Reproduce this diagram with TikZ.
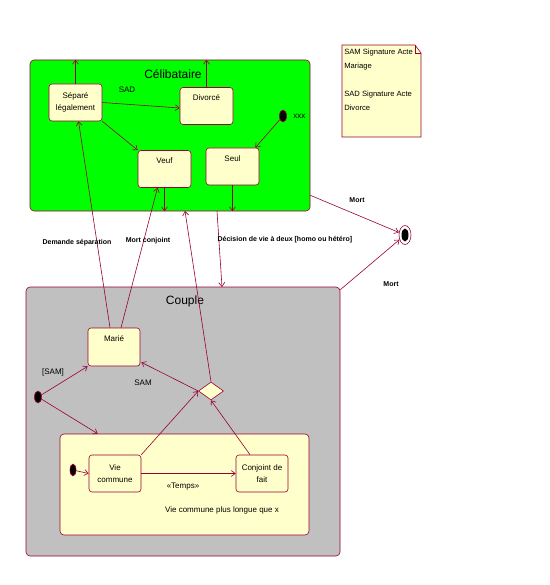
\documentclass[tikz,border=0pt]{standalone}
\usepackage{fontspec}
\setmainfont{Liberation Sans}
\usetikzlibrary{arrows.meta,positioning,shapes.geometric,calc}
\definecolor{lien}{RGB}{153,0,51}
\definecolor{creme}{RGB}{255,255,204}
\definecolor{vert}{RGB}{0,255,0}
\definecolor{gris}{RGB}{192,192,192}

\begin{document}
\begin{tikzpicture}[x=1pt, y=-1pt, line width=.6pt,
    every node/.style={font=\fontsize{8}{12}\selectfont},
    etat/.style={draw=lien, fill=creme, rounded corners=3pt, minimum width=53pt,
      minimum height=37pt, inner sep=0pt, align=center},
    boite/.style={draw=lien, rounded corners=4pt, inner sep=0pt},
    init/.style={ellipse, draw=lien, fill=black, minimum width=7pt,
      minimum height=12pt, inner sep=0pt},
    tr/.style={draw=lien, -{Straight Barb[length=4pt,width=6pt]}},
    lab/.style={font=\bfseries\fontsize{7}{8}\selectfont},
    titre/.style={font=\fontsize{12}{14}\selectfont}]
    \useasboundingbox (0,0) rectangle (549,585);

    % super-etats
    \node[boite, fill=vert, minimum width=280pt, minimum height=151pt] (celib) at (170,135.5) {};
    \node[titre] (celibT) at (173,74) {Célibataire};
    \node[boite, fill=gris, minimum width=314pt, minimum height=269pt] (couple) at (183,421.5) {};
    \node[titre] (coupleT) at (185,301) {Couple};
    \node[boite, fill=creme, minimum width=249pt, minimum height=101pt] (vcomp) at (184.5,484.5) {};

    % note
    \draw[lien, fill=creme] (342,45) -- (415,45) -- (421,53) -- (421,137) -- (342,137) -- cycle;
    \draw[lien] (415,45) -- (415,53) -- (421,53);
    \node[anchor=north west, align=left, inner sep=0pt, font=\fontsize{7.6}{14}\selectfont]
      (note) at (344,49) {SAM Signature Acte\\Mariage\\ \\SAD Signature Acte\\Divorce};

    % etats celibataire
    \node[etat] (sep) at (75.5,102.5) {Séparé\\légalement};
    \node[etat, label={[anchor=north, yshift=-4pt]north:Divorcé}] (div) at (206.5,106) {};
    \node[etat, label={[anchor=north, yshift=-4pt]north:Veuf}] (veuf) at (164.5,169) {};
    \node[etat, label={[anchor=north, yshift=-4pt]north:Seul}] (seul) at (232.5,166.5) {};
    \node[init] (init1) at (283,116) {};
    \node[right=3pt of init1] (xxx) {xxx};

    % etats couple
    \node[etat, minimum width=52pt, minimum height=38pt,
      label={[anchor=north, yshift=-4pt]north:Marié}] (marie) at (114,347) {};
    \node[init] (init2) at (38,397) {};
    \node[diamond, draw=lien, fill=creme, minimum width=25pt, minimum height=18pt,
      inner sep=0pt] (choix) at (211,391) {};
    \node[init, minimum width=6pt] (init3) at (73,470) {};
    \node[etat, minimum width=52pt] (vie) at (115,473.5) {Vie\\commune};
    \node[etat, minimum width=52pt] (conj) at (262,473.5) {Conjoint de\\fait};
    \node (vieT) at (222,510) {Vie commune plus longue que x};

    % etat final
    \node[ellipse, draw=lien, minimum width=12pt, minimum height=19pt, inner sep=0pt] (fin) at (405,235) {};
    \node[ellipse, fill=black, minimum width=7pt, minimum height=13pt, inner sep=0pt] (finI) at (fin) {};

    % points sur les bords
    \coordinate (celibB1) at (185,211);
    \coordinate (celibB2) at (217,211);
    \coordinate (coupleH) at (222,287);

    % transitions celibataire
    \draw[tr] (sep.north) -- (sep.north |- celib.north);
    \draw[tr] (div.north) -- (div.north |- celib.north);
    \draw[tr] (sep.east) -- ($(div.west)+(0,2)$);
    \node (sad) at (127,90) {SAD};
    \draw[tr] (sep.south east) -- (veuf.north west);
    \draw[tr] (init1) -- ($(seul.north east)+(-4,0)$);
    \draw[tr] (veuf.south) -- (veuf.south |- celib.south);
    \draw[tr] (seul.south) -- (seul.south |- celib.south);

    % transitions entre les deux
    \draw[tr] ($(marie.north)+(-4,0)$) -- ($(sep.south)+(3,0)$);
    \node[lab] (dsep) at (77,243) {Demande séparation};
    \draw[tr] ($(marie.north)+(7,0)$) -- ($(veuf.south)+(-7,0)$);
    \node[lab] (mconj) at (148,241) {Mort conjoint};
    \draw[tr] (choix.north) -- (celibB1);
    \draw[tr] (celibB2) -- (coupleH);
    \node[lab, anchor=west] (dec) at (214,240) {Décision de vie à deux [homo ou hétéro]};
    \draw[tr] ($(celib.south east)+(0,-16)$) -- (fin);
    \node[lab] (mort1) at (357,200) {Mort};
    \draw[tr] ($(couple.north east)+(0,3)$) -- (fin);
    \node[lab] (mort2) at (391,284) {Mort};

    % transitions couple
    \draw[tr] (init2) -- (marie.south west);
    \node (sam1) at (53,372) {[SAM]};
    \draw[tr] (init2) -- ($(vcomp.north west)+(38,0)$);
    \draw[tr] (choix.west) -- ($(marie.south east)+(1,-4)$);
    \node (sam2) at (143,383) {SAM};
    \draw[tr] (vie.north east) -- (choix.west);
    \draw[tr] ($(conj.north)+(-12,0)$) -- (choix.south);
    \draw[tr] (init3) -- (vie.west);
    \draw[tr] (vie.east) -- (conj.west);
    \node (temps) at (183,487) {«Temps»};
  \end{tikzpicture}
\end{document}
